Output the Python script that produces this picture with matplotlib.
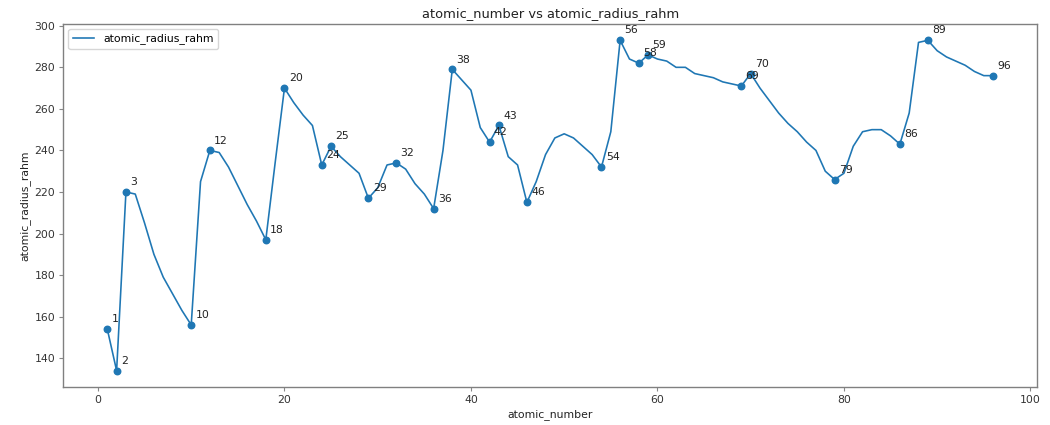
import matplotlib
matplotlib.use("Agg")
import matplotlib.pyplot as plt

# Rahm atomic radii (pm) for elements 1-96
atomic_number = list(range(1, 97))
atomic_radius_rahm = [
    154, 134, 220, 219, 205, 190, 179, 171, 163, 156,
    225, 240, 239, 232, 223, 214, 206, 197, 234, 270,
    263, 257, 252, 233, 242, 237, 233, 229, 217, 222,
    233, 234, 231, 224, 219, 212, 240, 279, 274, 269,
    251, 244, 252, 237, 233, 215, 225, 238, 246, 248,
    246, 242, 238, 232, 249, 293, 284, 282, 286, 284,
    283, 280, 280, 277, 276, 275, 273, 272, 271, 277,
    270, 264, 258, 253, 249, 244, 240, 230, 226, 229,
    242, 249, 250, 250, 247, 243, 258, 292, 293, 288,
    285, 283, 281, 278, 276, 276,
]

# Elements highlighted with a marker and label
highlighted = [1, 2, 3, 10, 12, 18, 20, 24, 25, 29, 32, 36, 38, 42, 43,
               46, 54, 56, 58, 59, 69, 70, 79, 86, 89, 96]

k = 0.78  # overall scale for text, ticks and line weights
plt.rcParams.update({
    "font.size": 10 * k,
    "axes.titlesize": 12 * k,
    "axes.labelsize": 10 * k,
    "axes.titlepad": 6 * k,
    "axes.labelpad": 4 * k,
    "xtick.major.size": 3.5 * k,
    "ytick.major.size": 3.5 * k,
    "xtick.major.pad": 3.5 * k,
    "ytick.major.pad": 3.5 * k,
    "xtick.labelsize": 10 * k,
    "ytick.labelsize": 10 * k,
    "legend.fontsize": 10 * k,
})

fig = plt.figure(figsize=(10.5, 4.25), dpi=100)
ax = fig.add_axes([0.06, 0.089, 0.928, 0.855])

ax.plot(atomic_number, atomic_radius_rahm, color="#1f77b4", lw=1.5 * k,
        label="atomic_radius_rahm")

hx = highlighted
hy = [atomic_radius_rahm[n - 1] for n in highlighted]
ax.scatter(hx, hy, color="#1f77b4", s=36 * k * k, zorder=3)
for x, y in zip(hx, hy):
    ax.annotate(str(x), (x, y), xytext=(4 * k, 4.5 * k), textcoords="offset points",
                ha="left", va="bottom", fontsize=10 * k, color="#222222")

ax.set_title("atomic_number vs atomic_radius_rahm", color="#222222")
ax.set_xlabel("atomic_number", color="#222222")
ax.set_ylabel("atomic_radius_rahm", color="#222222")
ax.set_xticks([0, 20, 40, 60, 80, 100])
ax.set_yticks(range(140, 301, 20))
ax.tick_params(colors="#888888", labelcolor="#333333", width=0.8)
for sp in ax.spines.values():
    sp.set_color("#808080")
    sp.set_linewidth(1.0)
ax.legend(loc="upper left")

fig.savefig("out.png", dpi=100)
